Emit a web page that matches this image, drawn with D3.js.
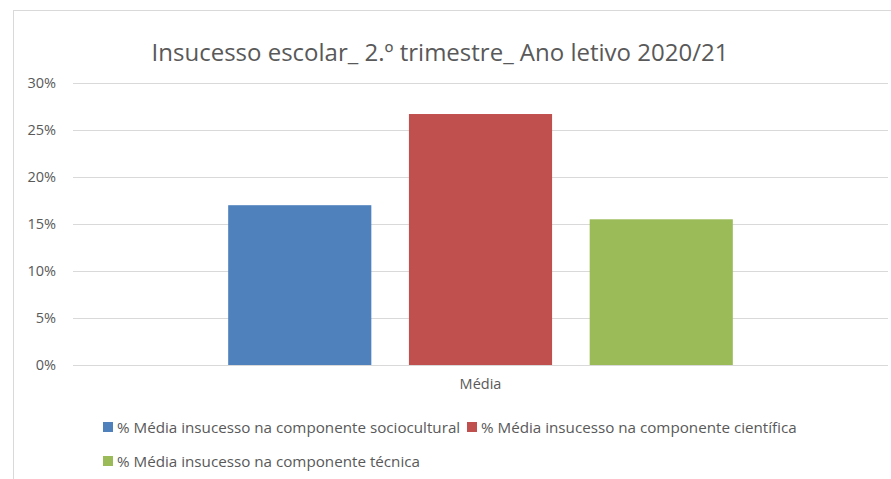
<!DOCTYPE html>
<html>
<head>
<meta charset="utf-8">
<script src="https://cdn.jsdelivr.net/npm/d3@7"></script>
<style>
  body { margin: 0; background: #fff; }
  svg { display: block; font-family: "Open Sans", "Noto Sans", sans-serif; }
</style>
</head>
<body>
<svg id="chart" width="891" height="479"></svg>
<script>
// chart data
const title = "Insucesso escolar_ 2.º trimestre_ Ano letivo 2020/21";
const categories = ["Média"];
const seriesNames = [
  "% Média insucesso na componente sociocultural",
  "% Média insucesso na componente científica",
  "% Média insucesso na componente técnica"
];
const seriesValues = [0.170, 0.267, 0.155];
const seriesColors = ["#4f81bd", "#c0504d", "#9bbb59"];
const yTicks = [0, 0.05, 0.10, 0.15, 0.20, 0.25, 0.30];

const svg = d3.select("#chart");
const textColor = "#595959";

// outer chart frame (runs off the right and bottom of the picture)
svg.append("rect")
    .attr("x", 13.5).attr("y", 10.5)
    .attr("width", 900).attr("height", 500)
    .attr("fill", "none")
    .attr("stroke", "#d9d9d9");

const plot = {left: 73, right: 888, top: 83, bottom: 365};

const y = d3.scaleLinear()
    .domain([0, 0.30])
    .range([plot.bottom, plot.top]);

const x = d3.scaleBand()
    .domain(categories)
    .range([plot.left, plot.right])
    .paddingInner(0)
    .paddingOuter(0.3075);

const xs = d3.scaleBand()
    .domain(seriesNames)
    .range([0, x.bandwidth()])
    .paddingInner(0.208)
    .paddingOuter(0);

// gridlines + y labels
const yAxis = svg.append("g")
    .attr("transform", "translate(" + plot.left + ",0)")
    .call(d3.axisLeft(y)
      .tickValues(yTicks)
      .tickFormat(d3.format(".0%"))
      .tickSize(-(plot.right - plot.left))
      .tickPadding(17));

yAxis.select(".domain").remove();
yAxis.selectAll(".tick line")
    .attr("stroke", "#d9d9d9")
    .attr("stroke-width", 1);
yAxis.selectAll(".tick text")
    .attr("fill", textColor)
    .style("font-size", "14.5px")
    .style("font-family", "\"Open Sans\", sans-serif");

// bars
const groups = svg.append("g")
  .selectAll("g")
  .data(categories)
  .join("g")
    .attr("transform", d => "translate(" + x(d) + ",0)");

groups.selectAll("rect")
  .data(seriesNames.map((name, i) => ({name: name, value: seriesValues[i], color: seriesColors[i]})))
  .join("rect")
    .attr("x", d => xs(d.name))
    .attr("y", d => y(d.value))
    .attr("width", xs.bandwidth())
    .attr("height", d => y(0) - y(d.value))
    .attr("fill", d => d.color);

// category label
svg.append("g")
  .selectAll("text")
  .data(categories)
  .join("text")
    .attr("x", d => x(d) + x.bandwidth() / 2)
    .attr("y", 389)
    .attr("text-anchor", "middle")
    .attr("fill", textColor)
    .style("font-size", "14.5px")
    .text(d => d);

// title
svg.append("text")
    .attr("x", 440)
    .attr("y", 61)
    .attr("text-anchor", "middle")
    .attr("fill", textColor)
    .style("font-size", "24px")
    .text(title);

// legend
const legendPos = [
  {x: 103, y: 422},
  {x: 467, y: 422},
  {x: 103, y: 456}
];
const legend = svg.append("g")
  .selectAll("g")
  .data(seriesNames)
  .join("g")
    .attr("transform", (d, i) => "translate(" + legendPos[i].x + "," + legendPos[i].y + ")");

legend.append("rect")
    .attr("width", 10)
    .attr("height", 10)
    .attr("fill", (d, i) => seriesColors[i]);

legend.append("text")
    .attr("x", 14)
    .attr("y", 10.5)
    .attr("fill", textColor)
    .style("font-size", "15.2px")
    .text(d => d);
</script>
</body>
</html>
